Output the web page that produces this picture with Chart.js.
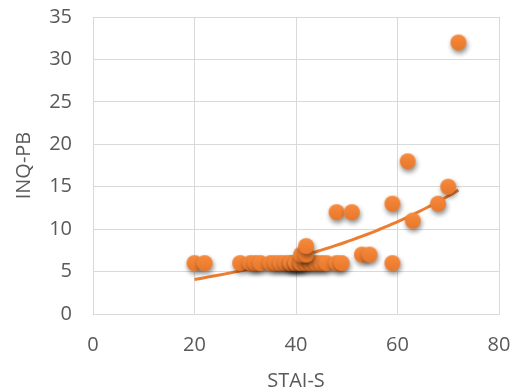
<!DOCTYPE html>
<html>
<head>
<meta charset="utf-8">
<script src="https://cdn.jsdelivr.net/npm/chart.js@4.4.1/dist/chart.umd.min.js"></script>
<style>
  html, body { margin: 0; padding: 0; background: #ffffff; }
  #wrap { width: 526px; height: 391px; }
</style>
</head>
<body>
<div id="wrap"><canvas id="chart" width="526" height="391"></canvas></div>
<script>
// STAI-S scores (x) and INQ-PB scores (y), one entry per respondent
const staiS = [20, 22, 29, 31, 32, 33, 35, 36, 37, 38, 39, 39, 40, 40, 41, 41, 42, 43, 44, 45, 46, 48, 49,
               59, 41, 42, 42, 48, 51, 53, 54.5, 59, 62, 63, 68, 70, 72];
const inqPB = [6, 6, 6, 6, 6, 6, 6, 6, 6, 6, 6, 6, 6, 6, 6, 6, 6, 6, 6, 6, 6, 6, 6,
               6, 7, 7, 8, 12, 12, 7, 7, 13, 18, 11, 13, 15, 32];

// Axis ticks
const xTicks = [0, 20, 40, 60, 80];
const yTicks = [0, 5, 10, 15, 20, 25, 30, 35];

const ORANGE = '#ED7D31';
const TEXT = '#595959';
const GRID = '#d9d9d9';
const FONT = "'Open Sans', 'DejaVu Sans', sans-serif";

const points = staiS.map((x, i) => ({ x: x, y: inqPB[i] }));

// Exponential trendline y = a·e^(b·x), least squares on ln(y)
function expFit(xs, ys) {
  const n = xs.length;
  const ly = ys.map(v => Math.log(v));
  const mx = xs.reduce((s, v) => s + v, 0) / n;
  const my = ly.reduce((s, v) => s + v, 0) / n;
  let sxy = 0, sxx = 0;
  for (let i = 0; i < n; i++) {
    sxy += (xs[i] - mx) * (ly[i] - my);
    sxx += (xs[i] - mx) * (xs[i] - mx);
  }
  const b = sxy / sxx;
  return { a: Math.exp(my - b * mx), b: b };
}
const fit = expFit(staiS, inqPB);
const xMin = Math.min(...staiS), xMax = Math.max(...staiS);
const trend = [];
for (let k = 0; k <= 60; k++) {
  const x = xMin + (xMax - xMin) * k / 60;
  trend.push({ x: x, y: fit.a * Math.exp(fit.b * x) });
}

// Marker: shaded orange disc with a soft drop shadow
function makeMarker(r) {
  const size = 34;
  const c = document.createElement('canvas');
  c.width = size; c.height = size;
  const g = c.getContext('2d');
  const cx = size / 2, cy = size / 2;
  g.save();
  g.shadowColor = 'rgba(0,0,0,0.45)';
  g.shadowBlur = 5;
  g.shadowOffsetX = 1;
  g.shadowOffsetY = 3;
  const grad = g.createLinearGradient(0, cy - r, 0, cy + r);
  grad.addColorStop(0, '#F68B3E');
  grad.addColorStop(1, '#E9772A');
  g.fillStyle = grad;
  g.beginPath();
  g.arc(cx, cy, r, 0, Math.PI * 2);
  g.fill();
  g.restore();
  return c;
}
const marker = makeMarker(8);

new Chart(document.getElementById('chart'), {
  type: 'scatter',
  data: {
    datasets: [
      {
        label: 'INQ-PB',
        data: points,
        pointStyle: marker,
        pointRadius: 8,
        pointHoverRadius: 8,
        order: 1
      },
      {
        type: 'line',
        label: 'Trend',
        data: trend,
        borderColor: ORANGE,
        borderWidth: 3,
        pointRadius: 0,
        fill: false,
        tension: 0,
        order: 2
      }
    ]
  },
  options: {
    responsive: false,
    animation: false,
    devicePixelRatio: 1,
    layout: { padding: { left: 0, right: 27, top: 17, bottom: 0 } },
    plugins: {
      legend: { display: false },
      tooltip: { enabled: false }
    },
    scales: {
      x: {
        type: 'linear',
        min: 0, max: 80,
        afterBuildTicks: s => { s.ticks = xTicks.map(v => ({ value: v })); },
        afterFit: s => { s.height = 77; s.paddingLeft = 0; s.paddingRight = 0; },
        grid: { color: GRID, lineWidth: 1, drawTicks: false },
        border: { display: true, color: GRID, width: 1 },
        ticks: { color: TEXT, font: { family: FONT, size: 20 }, padding: 19, maxRotation: 0 },
        title: { display: true, text: 'STAI-S', color: TEXT, font: { family: FONT, size: 20 }, padding: { top: 0, bottom: -2 } }
      },
      y: {
        type: 'linear',
        min: 0, max: 35,
        afterBuildTicks: s => { s.ticks = yTicks.map(v => ({ value: v })); },
        afterFit: s => { s.width = 93; s.paddingTop = 0; s.paddingBottom = 0; },
        grid: { color: GRID, lineWidth: 1, drawTicks: false },
        border: { display: true, color: GRID, width: 1 },
        ticks: { color: TEXT, font: { family: FONT, size: 20 }, padding: 21 },
        title: { display: true, text: 'INQ-PB', color: TEXT, font: { family: FONT, size: 20 }, padding: { top: 12, bottom: 0 } }
      }
    }
  }
});
</script>
</body>
</html>
